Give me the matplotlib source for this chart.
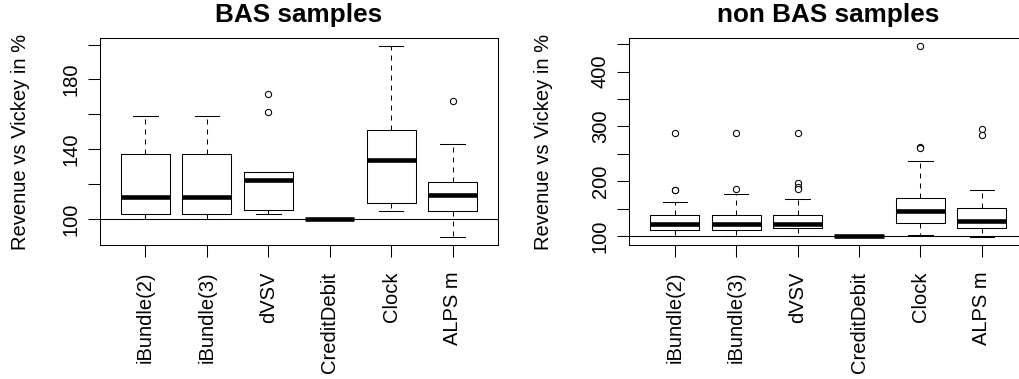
"""
Revenue vs Vickey boxplots, BAS and non BAS samples
"""

import matplotlib
matplotlib.use("Agg")
import matplotlib.pyplot as plt
import numpy as np

############   DATA   #############
labels = ["iBundle(2)", "iBundle(3)", "dVSV", "CreditDebit", "Clock", "ALPS m"]

# BAS samples : five number summaries + outliers
bas_low = [100, 100, 102.7, 100, 104.6, 89.5]
bas_q1 = [103, 103, 105.3, 100, 109.3, 104.6]
bas_med = [112.8, 112.8, 122.1, 100, 134.1, 113.7]
bas_q3 = [137.1, 137.1, 126.7, 100, 150.9, 121.1]
bas_high = [159, 159, 126.7, 100, 199.4, 143]
bas_fliers = [[], [], [171.4, 161.1], [], [], [167.8]]

# non BAS samples
non_low = [100, 100, 100, 100, 101.8, 98.2]
non_q1 = [112.1, 112.1, 114.5, 100, 124.2, 114.5]
non_med = [121.8, 121.8, 121.8, 100, 146, 127.8]
non_q3 = [138.7, 138.7, 138.7, 100, 170.2, 150.8]
non_high = [162.9, 177.4, 167.2, 100, 237.3, 184.1]
non_fliers = [[288.7, 184.1, 185.0], [288.7, 185.3], [288.7, 196.2, 190.1, 185.3],
              [], [447.2, 263, 261], [294.8, 285.1]]

# ticks
bas_ticks = [100, 120, 140, 160, 180, 200]
bas_ticklabels = ["100", "", "140", "", "180", ""]
non_ticks = [100, 150, 200, 250, 300, 350, 400, 450]
non_ticklabels = ["100", "", "200", "", "300", "", "400", ""]

############   STYLE   #############
plt.rcParams['font.family'] = ['Liberation Sans', 'DejaVu Sans']
plt.rcParams['lines.scale_dashes'] = False
lw = 0.75
fs = 14.5


def draw_panel(ax, title, low, q1, med, q3, high, fliers, ticks, ticklabels, ylab_x):
    stats = []
    for i in range(len(labels)):
        stats.append(dict(label=labels[i], whislo=low[i], q1=q1[i], med=med[i],
                          q3=q3[i], whishi=high[i], fliers=fliers[i]))
    ax.bxp(stats, positions=np.arange(1, len(labels) + 1), widths=0.8, capwidths=0.4,
           boxprops=dict(color="black", linewidth=lw),
           medianprops=dict(color="black", linewidth=3.3, solid_capstyle="butt"),
           whiskerprops=dict(color="black", linewidth=lw, linestyle=(0, (3.6, 3.6))),
           capprops=dict(color="black", linewidth=lw),
           flierprops=dict(marker="o", markersize=4.5, markerfacecolor="white",
                           markeredgecolor="black", markeredgewidth=lw, linestyle="none"))
    ax.axhline(100, color="black", linewidth=lw)

    allv = list(low) + list(high) + [v for f in fliers for v in f]
    lo, hi = min(allv), max(allv)
    pad = 0.04 * (hi - lo)
    ax.set_ylim(lo - pad, hi + pad)
    ax.set_xlim(0.26, 6.74)

    ax.set_yticks(ticks)
    ax.set_yticklabels(ticklabels, rotation=90, va="center", fontsize=fs)
    ax.set_xticks(np.arange(1, len(labels) + 1))
    ax.set_xticklabels(labels, rotation=90, fontsize=fs)
    ax.tick_params(axis="both", direction="out", length=8.6, width=lw, colors="black")
    ax.tick_params(axis="x", pad=10.5)
    ax.tick_params(axis="y", pad=5.5)
    for sp in ax.spines.values():
        sp.set_linewidth(lw)
    ax.set_ylabel("Revenue vs Vickey in %", fontsize=fs)
    ax.yaxis.set_label_coords(ylab_x, 0.5)
    ax.text(0.5, 1.111, title, transform=ax.transAxes, ha="center", va="center",
            fontsize=18.8, fontweight="bold")


fig = plt.figure(figsize=(10.19, 3.79), dpi=100)
ax1 = fig.add_axes([0.0981, 0.3536, 0.3906, 0.5462])
ax2 = fig.add_axes([0.6176, 0.3536, 0.3906, 0.5462])

draw_panel(ax1, "BAS samples", bas_low, bas_q1, bas_med, bas_q3, bas_high, bas_fliers,
           bas_ticks, bas_ticklabels, -0.176)
draw_panel(ax2, "non BAS samples", non_low, non_q1, non_med, non_q3, non_high, non_fliers,
           non_ticks, non_ticklabels, -0.192)

fig.savefig("out.png", dpi=100)
